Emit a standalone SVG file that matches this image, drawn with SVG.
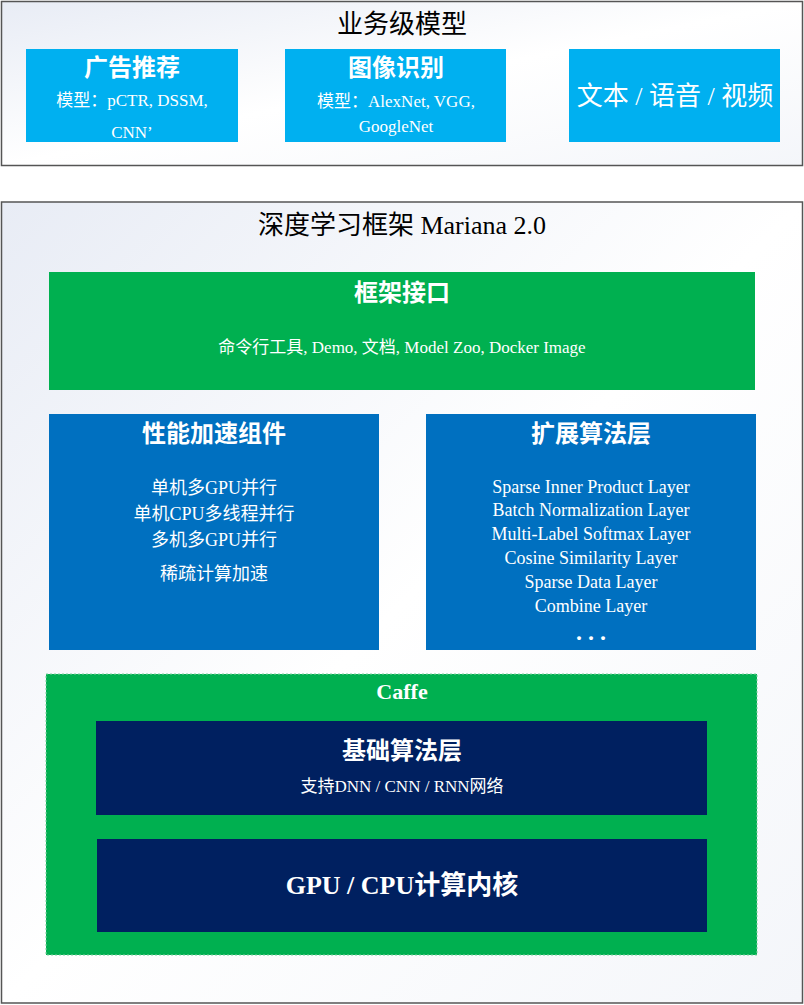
<svg xmlns="http://www.w3.org/2000/svg" width="804" height="1005" viewBox="0 0 804 1005">
<defs>
<linearGradient id="bg" x1="0" y1="0" x2="1" y2="1"><stop offset="0" stop-color="#e8ecf5"/><stop offset="0.5" stop-color="#ffffff"/><stop offset="1" stop-color="#f4f6fa"/></linearGradient>
<style>
text{font-family:"Liberation Serif","Noto Sans CJK SC",serif;text-anchor:middle;fill:#fff}
.k{fill:#000}
.h{font-size:24px;font-weight:bold}
.s{font-size:17px}
.m{font-size:18px}
</style>
</defs>
<g id="top">
<rect x="1.5" y="1.5" width="801" height="164" fill="url(#bg)" stroke="#555" stroke-width="1.5"/>
<text class="k" x="402" y="33" font-size="26">业务级模型</text>
</g>
<g id="ad"><rect x="26" y="49" width="212" height="93" fill="#00b0f0"/>
<text class="h" x="132" y="76" font-weight="normal">广告推荐</text>
<text class="s" x="132" y="106">模型：pCTR, DSSM,</text>
<text class="s" x="132" y="138">CNN’</text></g>
<g id="img"><rect x="285" y="49" width="221" height="93" fill="#00b0f0"/>
<text class="h" x="396" y="76" font-weight="normal">图像识别</text>
<text class="s" x="396" y="107">模型：AlexNet, VGG,</text>
<text class="s" x="396" y="132">GoogleNet</text></g>
<g id="txt"><rect x="569" y="49" width="211" height="93" fill="#00b0f0"/>
<text x="675" y="105" font-size="26">文本 / 语音 / 视频</text></g>
<g id="fw">
<rect x="1.5" y="202" width="801" height="801" fill="url(#bg)" stroke="#555" stroke-width="1.5"/>
<text class="k" x="402" y="234" font-size="26">深度学习框架 Mariana 2.0</text>
</g>
<g id="api"><rect x="49" y="272" width="706" height="118" fill="#00b050"/>
<text class="h" x="402" y="301">框架接口</text>
<text class="s" x="402" y="353">命令行工具, Demo, 文档, Model Zoo, Docker Image</text></g>
<g id="perf"><rect x="49" y="414" width="330" height="236" fill="#0070c0"/>
<text class="h" x="214" y="442">性能加速组件</text>
<text class="m" x="214" y="494">单机多GPU并行</text>
<text class="m" x="214" y="520">单机CPU多线程并行</text>
<text class="m" x="214" y="546">多机多GPU并行</text>
<text class="m" x="214" y="580">稀疏计算加速</text></g>
<g id="ext"><rect x="426" y="414" width="330" height="236" fill="#0070c0"/>
<text class="h" x="591" y="442">扩展算法层</text>
<text class="m" x="591" y="493">Sparse Inner Product Layer</text>
<text class="m" x="591" y="516">Batch Normalization Layer</text>
<text class="m" x="591" y="540">Multi-Label Softmax Layer</text>
<text class="m" x="591" y="564">Cosine Similarity Layer</text>
<text class="m" x="591" y="588">Sparse Data Layer</text>
<text class="m" x="591" y="612">Combine Layer</text>
<text class="h" x="591" y="640">. . .</text></g>
<g id="caffe"><rect x="46" y="674" width="711" height="281" fill="#00b050" stroke="#7fd0a0" stroke-dasharray="2,2"/>
<text x="402" y="699" font-size="22" font-weight="bold">Caffe</text></g>
<g id="base"><rect x="96" y="721" width="611" height="94" fill="#002060"/>
<text class="h" x="402" y="759" font-weight="normal">基础算法层</text>
<text class="s" x="402" y="792">支持DNN / CNN / RNN网络</text></g>
<g id="core"><rect x="97" y="839" width="610" height="93" fill="#002060"/>
<text x="402" y="894" font-size="26" font-weight="bold">GPU / CPU计算内核</text></g>
<g id="connectors"/>
</svg>
